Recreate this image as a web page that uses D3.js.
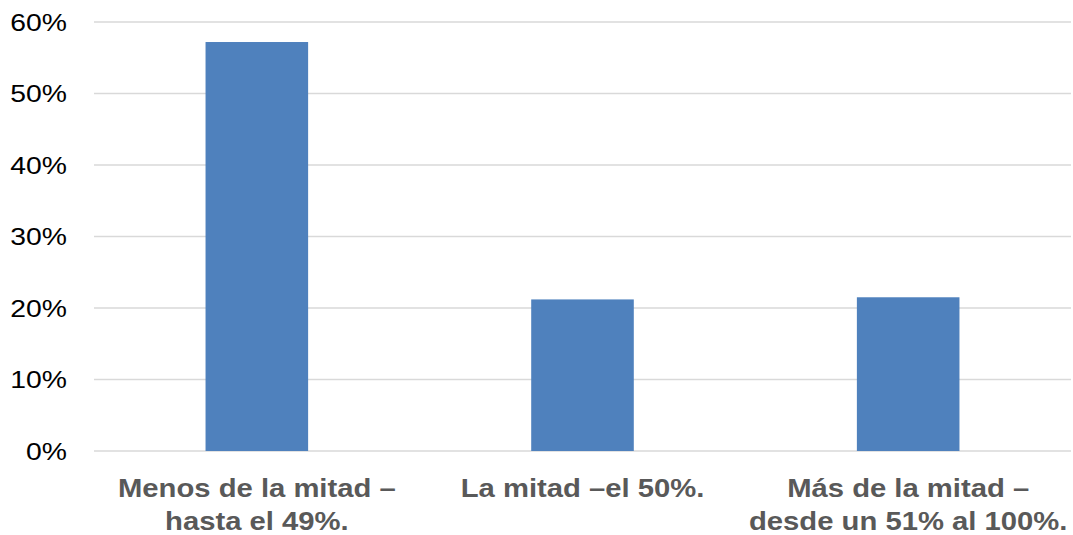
<!DOCTYPE html>
<html>
<head>
<meta charset="utf-8">
<script src="https://cdn.jsdelivr.net/npm/d3@7"></script>
<style>
  html, body { margin: 0; padding: 0; background: #ffffff; }
  svg { display: block; }
</style>
</head>
<body>
<script>
// Category labels (each split into display lines) and share of responses
const categories = [
  ["Menos de la mitad –", "hasta el 49%."],
  ["La mitad –el 50%."],
  ["Más de la mitad –", "desde un 51% al 100%."]
];
const values = [0.572, 0.212, 0.215];
const yTicks = [0, 0.1, 0.2, 0.3, 0.4, 0.5, 0.6];

const width = 1073, height = 535;
const plot = { left: 94, right: 1071, top: 22, bottom: 451 };

const svg = d3.select("body").append("svg")
  .attr("width", width).attr("height", height);

const x = d3.scaleBand()
  .domain(d3.range(categories.length))
  .range([plot.left, plot.right])
  .paddingInner(0.685)
  .paddingOuter(0.3425);

const y = d3.scaleLinear().domain([0, 0.6]).range([plot.bottom, plot.top]);

// Horizontal gridlines
svg.append("g")
  .selectAll("line")
  .data(yTicks)
  .join("line")
  .attr("x1", plot.left).attr("x2", plot.right)
  .attr("y1", d => y(d)).attr("y2", d => y(d))
  .attr("stroke", "#d9d9d9")
  .attr("stroke-width", 1.5);

// Y axis labels
const fmt = d3.format(".0%");
svg.append("g")
  .selectAll("text")
  .data(yTicks)
  .join("text")
  .attr("transform", d => `translate(67,${y(d) + 8.5}) scale(1.18,1)`)
  .attr("text-anchor", "end")
  .attr("font-family", "Liberation Sans, Arial, sans-serif")
  .attr("font-size", 24)
  .attr("fill", "#000000")
  .text(d => fmt(d));

// Bars
svg.append("g")
  .selectAll("rect")
  .data(values)
  .join("rect")
  .attr("x", (d, i) => x(i))
  .attr("width", x.bandwidth())
  .attr("y", d => y(d))
  .attr("height", d => y(0) - y(d))
  .attr("fill", "#4f81bd");

// Category labels
const labels = svg.append("g")
  .selectAll("text")
  .data(categories)
  .join("text")
  .attr("transform", (d, i) => `translate(${x(i) + x.bandwidth() / 2},497) scale(1.17,1)`)
  .attr("text-anchor", "middle")
  .attr("font-family", "Liberation Sans, Arial, sans-serif")
  .attr("font-weight", "bold")
  .attr("font-size", 25)
  .attr("fill", "#595959");

labels.selectAll("tspan")
  .data(d => d)
  .join("tspan")
  .attr("x", 0)
  .attr("dy", (d, i) => i === 0 ? 0 : 33)
  .text(d => d);
</script>
</body>
</html>
